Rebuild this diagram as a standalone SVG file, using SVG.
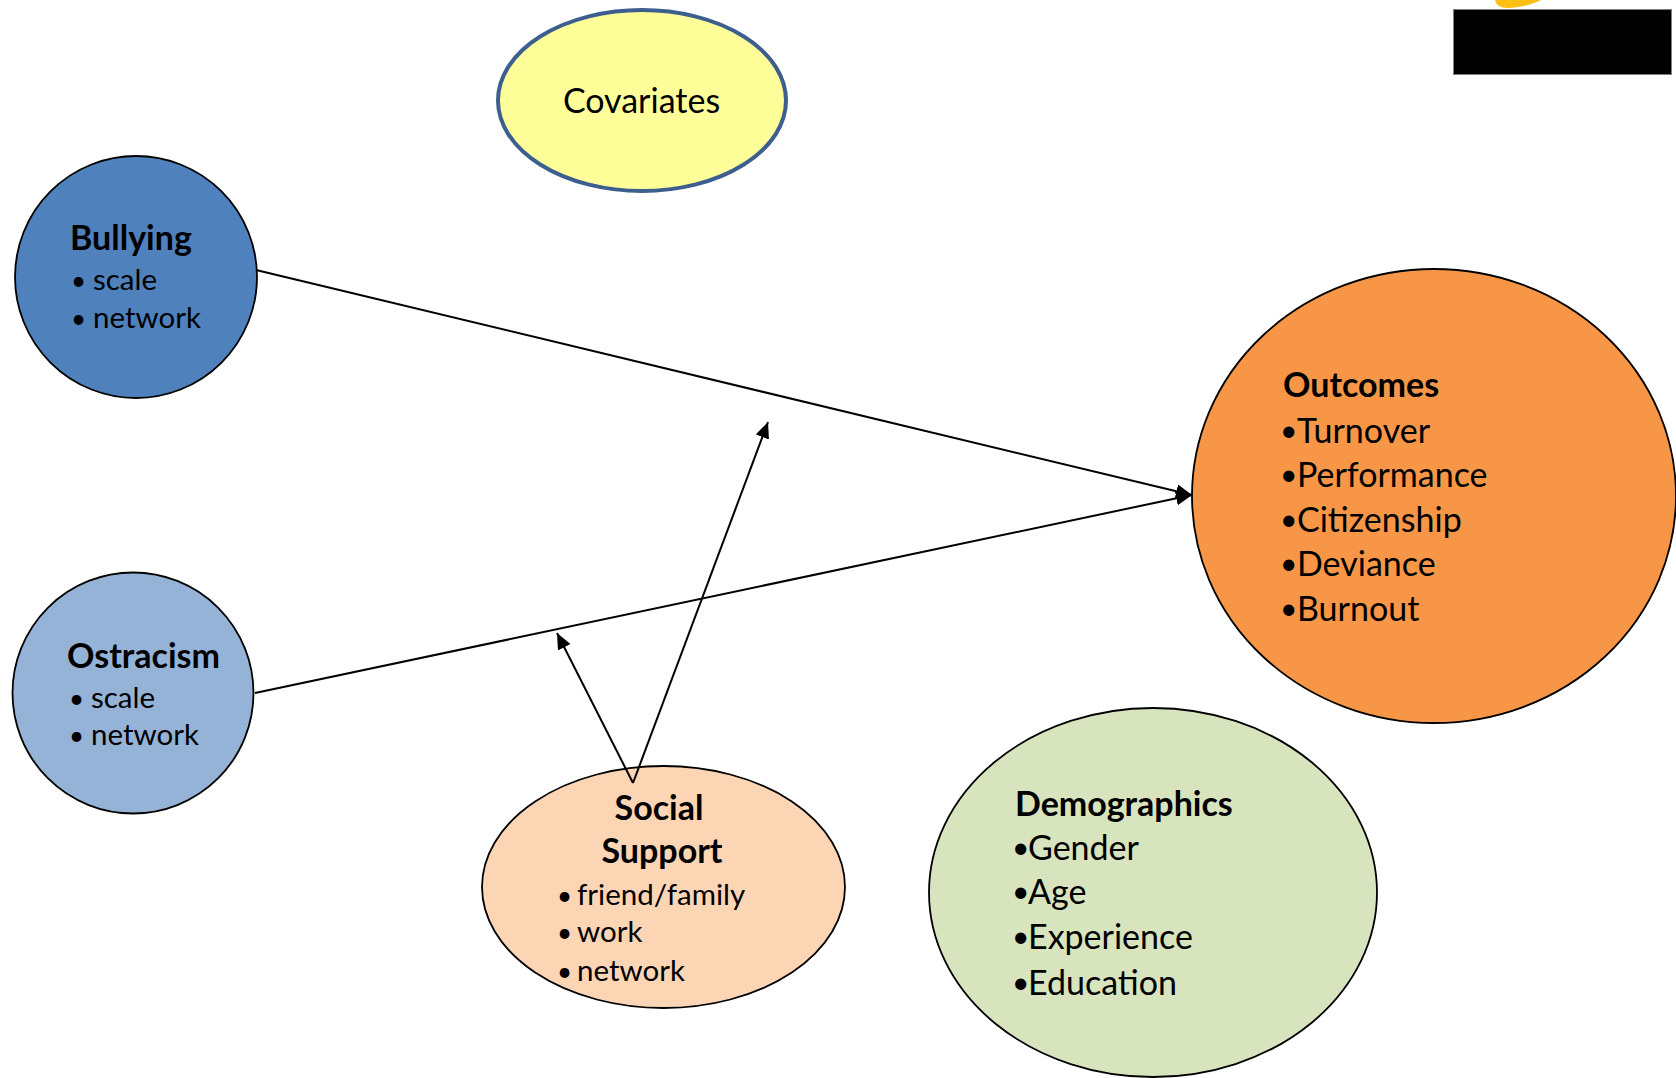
<svg xmlns="http://www.w3.org/2000/svg" width="1676" height="1078" viewBox="0 0 1676 1078">
<style>
  text { font-family: Lato, "Liberation Sans", sans-serif; fill: #000; }
  .title { font-weight: bold; font-size: 34px; }
  .item { font-size: 34px; }
  .small { font-size: 29.5px; }
  .b { font-size: 26px; }
  .bb { font-size: 30px; }
  .node { stroke: #000; stroke-width: 1.8; }
  .conn { stroke: #000; stroke-width: 2; fill: none; marker-end: url(#arrow); }
</style>
<defs>
  <marker id="arrow" markerUnits="userSpaceOnUse" markerWidth="18" markerHeight="16" refX="16" refY="7" orient="auto">
    <path d="M0,0 L16,7 L0,14 Z" fill="#000"/>
  </marker>
</defs>
<rect width="1676" height="1078" fill="#fff"/>

<g id="decoration">
  <path d="M1495,0 Q1497,9 1510,8 Q1530,6 1541,0 Z" fill="#fdbf13"/>
  <rect x="1453.5" y="9.5" width="218" height="65" fill="#000" stroke="#7f7f7f" stroke-width="1"/>
</g>

<g id="covariates">
  <ellipse cx="642" cy="100.5" rx="144" ry="90.5" fill="#ffff99" stroke="#3d5f8f" stroke-width="4"/>
  <text x="641.5" y="113" class="item" text-anchor="middle">Covariates</text>
</g>

<g id="bullying">
  <circle cx="136" cy="277" r="121" fill="#4f81bd" class="node"/>
  <text x="70" y="250" class="title">Bullying</text>
  <text class="small"><tspan x="71" y="290" class="b">•</tspan><tspan x="93" y="290">scale</tspan></text>
  <text class="small"><tspan x="71" y="328" class="b">•</tspan><tspan x="93" y="328">network</tspan></text>
</g>

<g id="ostracism">
  <circle cx="133" cy="693" r="120.5" fill="#95b3d7" class="node"/>
  <text x="67" y="668" class="title">Ostracism</text>
  <text class="small"><tspan x="69" y="708" class="b">•</tspan><tspan x="91" y="708">scale</tspan></text>
  <text class="small"><tspan x="69" y="745" class="b">•</tspan><tspan x="91" y="745">network</tspan></text>
</g>

<g id="outcomes">
  <ellipse cx="1434" cy="496" rx="242" ry="227" fill="#f79646" class="node"/>
  <text x="1283" y="397" class="title">Outcomes</text>
  <text class="item"><tspan x="1280" y="441" class="bb">•</tspan><tspan x="1297" y="443">Turnover</tspan></text>
  <text class="item"><tspan x="1280" y="485" class="bb">•</tspan><tspan x="1297" y="487">Performance</tspan></text>
  <text class="item"><tspan x="1280" y="530" class="bb">•</tspan><tspan x="1297" y="532">Citizenship</tspan></text>
  <text class="item"><tspan x="1280" y="574" class="bb">•</tspan><tspan x="1297" y="576">Deviance</tspan></text>
  <text class="item"><tspan x="1280" y="619" class="bb">•</tspan><tspan x="1297" y="621">Burnout</tspan></text>
</g>

<g id="demographics">
  <ellipse cx="1153" cy="892.5" rx="224" ry="184.5" fill="#d7e4bd" class="node"/>
  <text x="1015" y="816" class="title">Demographics</text>
  <text class="item"><tspan x="1012" y="858" class="bb">•</tspan><tspan x="1028" y="860">Gender</tspan></text>
  <text class="item"><tspan x="1012" y="902" class="bb">•</tspan><tspan x="1028" y="904">Age</tspan></text>
  <text class="item"><tspan x="1012" y="947" class="bb">•</tspan><tspan x="1028" y="949">Experience</tspan></text>
  <text class="item"><tspan x="1012" y="993" class="bb">•</tspan><tspan x="1028" y="995">Education</tspan></text>
</g>

<g id="social-support">
  <ellipse cx="663.5" cy="887" rx="181.5" ry="121" fill="#fcd5b5" class="node"/>
  <text x="659" y="820" class="title" text-anchor="middle">Social</text>
  <text x="662" y="863" class="title" text-anchor="middle">Support</text>
  <text class="small"><tspan x="557" y="905" class="b">•</tspan><tspan x="577" y="905">friend/family</tspan></text>
  <text class="small"><tspan x="557" y="942" class="b">•</tspan><tspan x="577" y="942">work</tspan></text>
  <text class="small"><tspan x="557" y="981" class="b">•</tspan><tspan x="577" y="981">network</tspan></text>
</g>

<g id="connectors">
  <line x1="256" y1="270" x2="1192" y2="495" class="conn"/>
  <line x1="255" y1="693" x2="1192" y2="495" class="conn"/>
  <line x1="633" y1="783" x2="768" y2="422" class="conn"/>
  <line x1="633" y1="783" x2="557" y2="633" class="conn"/>
</g>
</svg>
